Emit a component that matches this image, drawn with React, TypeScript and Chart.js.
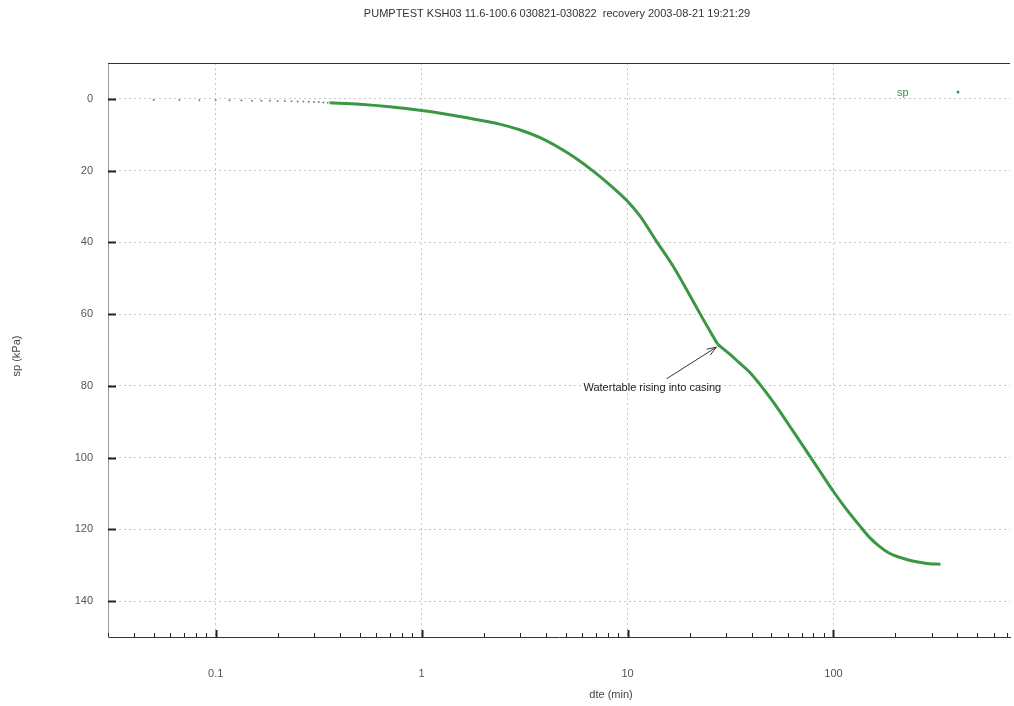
import React, { useEffect, useRef } from "react";
import { Chart, registerables } from "chart.js";

Chart.register(...registerables);

const TITLE = "PUMPTEST KSH03 11.6-100.6 030821-030822  recovery 2003-08-21 19:21:29";
const X_LABEL = "dte (min)";
const Y_LABEL = "sp (kPa)";
const SERIES_NAME = "sp";
const ANNOTATION_TEXT = "Watertable rising into casing";

// early, sparse samples (minutes after pump stop)
const earlyTimes = [
  0.05, 0.0667, 0.0833, 0.1, 0.1167, 0.1333, 0.15, 0.1667, 0.1833, 0.2, 0.2167,
  0.2333, 0.25, 0.2667, 0.2833, 0.3, 0.3167, 0.3333, 0.35,
];
const earlyValues = [
  0.3, 0.3, 0.35, 0.4, 0.4, 0.45, 0.5, 0.5, 0.55, 0.6, 0.6, 0.65, 0.7, 0.75, 0.8,
  0.85, 0.9, 1.0, 1.05,
];

// main recovery curve
const curveTimes = [
  0.3575, 0.5, 0.6995, 1.0, 1.368, 1.808, 2.391, 2.991, 3.74, 4.677, 5.655, 6.763,
  8.178, 10, 11.44, 13.83, 16.54, 19.56, 23.13, 27.35, 31.27, 34.97, 39.1, 43.73,
  48.9, 54.69, 61.15, 68.39, 76.46, 87.44, 100, 115.7, 133.7, 149.6, 167.2, 187.0,
  209.1, 233.8, 261.5, 292.4, 330.7,
];
const curveValues = [
  1.11, 1.53, 2.22, 3.25, 4.44, 5.69, 7.03, 8.61, 10.75, 13.69, 16.67, 20.0,
  23.89, 28.53, 32.5, 39.72, 46.39, 53.61, 61.11, 68.33, 71.11, 73.61, 76.11,
  79.44, 83.06, 86.94, 91.11, 95.28, 99.44, 104.44, 109.44, 114.44, 118.89,
  122.22, 124.72, 126.67, 127.78, 128.61, 129.17, 129.58, 129.72,
];
// time of the slope break (water table enters casing)
const KINK_TIME = 27.35;

const xTickLabels = [0.1, 1, 10, 100];
const yTickValues = [0, 20, 40, 60, 80, 100, 120, 140];
const X_MIN = 0.03;
const X_MAX = 720;
const Y_MIN = -10;
const Y_MAX = 150;

// annotation anchor points (data coordinates)
const arrowHead = { x: 27.0, y: 69.2 };
const arrowTail = { x: 15.5, y: 78 };
const annotationPos = { x: 13.2, y: 80.5 };

const GREEN = "rgb(58,152,68)";
const FONT = "'Liberation Sans', Arial, sans-serif";

const isDecade = (v: number) => xTickLabels.some((d) => Math.abs(v - d) / d < 1e-6);

const overlayPlugin = {
  id: "overlay",
  afterDraw(chart: any) {
    const ctx = chart.ctx;
    const area = chart.chartArea;
    const xs = chart.scales.x;
    const ys = chart.scales.y;
    ctx.save();

    // top frame line
    ctx.strokeStyle = "#333";
    ctx.lineWidth = 1;
    ctx.beginPath();
    ctx.moveTo(area.left, area.top + 0.5);
    ctx.lineTo(area.right, area.top + 0.5);
    ctx.stroke();

    // inner tick marks on y
    ctx.strokeStyle = "#222";
    ctx.lineWidth = 2;
    for (const v of yTickValues) {
      const py = Math.round(ys.getPixelForValue(v)) + 0.5;
      ctx.beginPath();
      ctx.moveTo(area.left, py);
      ctx.lineTo(area.left + 8, py);
      ctx.stroke();
    }
    // inner tick marks on x
    for (const t of xs.ticks) {
      const px = Math.round(xs.getPixelForValue(t.value)) + 0.5;
      const len = isDecade(t.value) ? 7 : 4;
      ctx.lineWidth = isDecade(t.value) ? 2 : 1;
      ctx.beginPath();
      ctx.moveTo(px, area.bottom);
      ctx.lineTo(px, area.bottom - len);
      ctx.stroke();
    }

    // title
    ctx.fillStyle = "#333";
    ctx.font = `11px ${FONT}`;
    ctx.textAlign = "center";
    ctx.textBaseline = "middle";
    ctx.fillText(TITLE, 557, 14);

    // axis titles
    ctx.fillStyle = "#444";
    ctx.fillText(X_LABEL, 611, 695);
    ctx.save();
    ctx.translate(17, 356);
    ctx.rotate(-Math.PI / 2);
    ctx.fillText(Y_LABEL, 0, 0);
    ctx.restore();

    // legend
    ctx.fillStyle = GREEN;
    ctx.textAlign = "left";
    ctx.fillText(SERIES_NAME, 897, 93);
    ctx.beginPath();
    ctx.arc(958, 92, 1.5, 0, Math.PI * 2);
    ctx.fill();

    // annotation
    const hx = xs.getPixelForValue(arrowHead.x);
    const hy = ys.getPixelForValue(arrowHead.y);
    const tx = xs.getPixelForValue(arrowTail.x);
    const ty = ys.getPixelForValue(arrowTail.y);
    ctx.strokeStyle = "#333";
    ctx.lineWidth = 1;
    ctx.beginPath();
    ctx.moveTo(tx, ty);
    ctx.lineTo(hx, hy);
    const ang = Math.atan2(hy - ty, hx - tx);
    const al = 10;
    ctx.moveTo(hx, hy);
    ctx.lineTo(hx - al * Math.cos(ang - 0.35), hy - al * Math.sin(ang - 0.35));
    ctx.moveTo(hx, hy);
    ctx.lineTo(hx - al * Math.cos(ang + 0.35), hy - al * Math.sin(ang + 0.35));
    ctx.stroke();

    ctx.fillStyle = "#222";
    ctx.textAlign = "center";
    ctx.fillText(
      ANNOTATION_TEXT,
      xs.getPixelForValue(annotationPos.x),
      ys.getPixelForValue(annotationPos.y)
    );

    ctx.restore();
  },
};

export default function App() {
  const ref = useRef<HTMLCanvasElement | null>(null);

  useEffect(() => {
    if (!ref.current) return;
    const minorTicks: number[] = [];
    for (const d of [0.01, 0.1, 1, 10, 100]) {
      for (let m = 1; m <= 9; m++) {
        const v = m === 1 ? d : parseFloat((m * d).toPrecision(6));
        if (v >= X_MIN && v <= X_MAX) minorTicks.push(v);
      }
    }

    const pts = curveTimes.map((t, i) => ({ x: t, y: curveValues[i] }));
    const before = pts.filter((p) => p.x <= KINK_TIME);
    const after = pts.filter((p) => p.x >= KINK_TIME);

    const lineStyle = {
      borderColor: GREEN,
      backgroundColor: GREEN,
      borderWidth: 3,
      pointRadius: 0,
      cubicInterpolationMode: "monotone" as const,
    };

    const chart = new Chart(ref.current, {
      type: "line",
      data: {
        datasets: [
          { label: SERIES_NAME, data: before, ...lineStyle },
          { label: SERIES_NAME + " (after)", data: after, ...lineStyle },
          {
            label: SERIES_NAME + " early",
            data: earlyTimes.map((t, i) => ({ x: t, y: earlyValues[i] })),
            showLine: false,
            pointRadius: 1,
            pointBorderWidth: 0,
            pointBackgroundColor: "rgba(80,120,80,0.85)",
            borderColor: "rgba(80,120,80,0.85)",
          },
        ],
      },
      options: {
        responsive: false,
        animation: false,
        layout: { padding: { top: 63, right: 0, left: 0, bottom: 0 } },
        plugins: {
          legend: { display: false },
          title: { display: false },
          tooltip: { enabled: false },
        },
        scales: {
          x: {
            type: "logarithmic",
            min: X_MIN,
            max: X_MAX,
            afterBuildTicks: (s: any) => {
              s.ticks = minorTicks.map((v) => ({ value: v }));
            },
            afterFit: (s: any) => {
              s.height = 69;
              s.paddingLeft = 0;
              s.paddingRight = 0;
            },
            ticks: {
              autoSkip: false,
              maxRotation: 0,
              padding: 30,
              color: "#555",
              font: { size: 11, family: FONT },
              callback: (v: any) => (isDecade(Number(v)) ? String(Number(v)) : ""),
            },
            grid: {
              drawTicks: false,
              color: (c: any) => (c.tick && isDecade(c.tick.value) ? "#c8c8c8" : "rgba(0,0,0,0)"),
              lineWidth: 1,
            },
            border: { display: true, color: "#333", width: 1, dash: [2, 3] },
          },
          y: {
            type: "linear",
            reverse: true,
            min: Y_MIN,
            max: Y_MAX,
            afterBuildTicks: (s: any) => {
              s.ticks = yTickValues.map((v) => ({ value: v }));
            },
            afterFit: (s: any) => {
              s.width = 108;
              s.paddingTop = 0;
              s.paddingBottom = 0;
            },
            ticks: {
              padding: 15,
              color: "#555",
              font: { size: 11, family: FONT },
            },
            grid: { drawTicks: false, color: "#c8c8c8", lineWidth: 1 },
            border: { display: true, color: "#999", width: 1, dash: [2, 3] },
          },
        },
      },
      plugins: [overlayPlugin],
    });
    return () => chart.destroy();
  }, []);

  return (
    <div style={{ position: "absolute", left: 0, top: 0, width: 1014, height: 706, background: "#fff" }}>
      <canvas ref={ref} width={1014} height={706} style={{ display: "block" }} />
    </div>
  );
}
